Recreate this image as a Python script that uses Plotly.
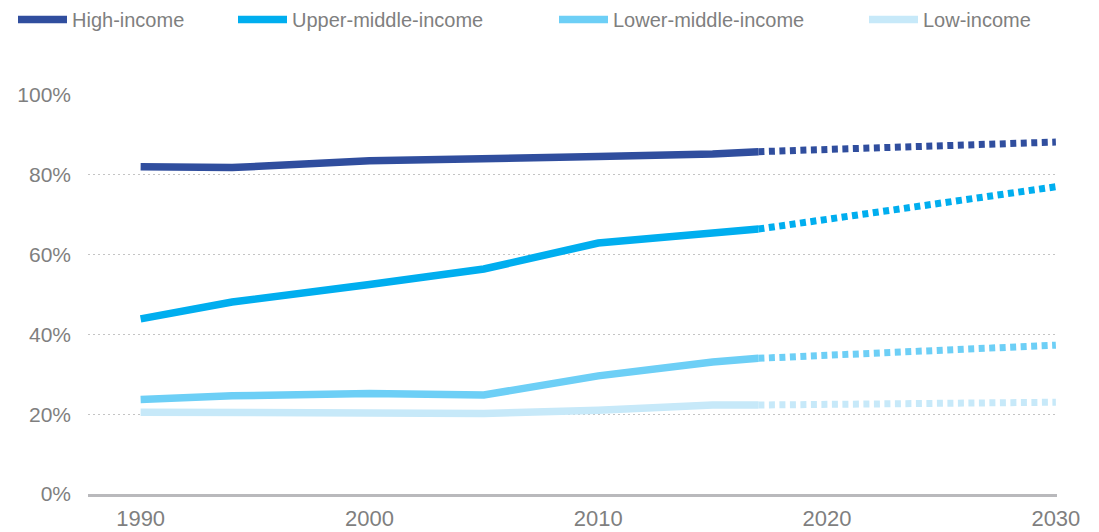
import plotly.graph_objects as go

# Urban population share by income group, observed and projected
years = [1990, 1994, 2000, 2005, 2010, 2015, 2017]
proj_years = [2017, 2030]

high_income = [82.0, 81.8, 83.5, 83.9, 84.6, 85.2, 85.8]
high_income_proj = [85.8, 88.2]

upper_middle = [43.9, 48.1, 52.5, 56.4, 62.9, 65.4, 66.4]
upper_middle_proj = [66.4, 77.0]

lower_middle = [23.7, 24.6, 25.2, 24.8, 29.6, 33.1, 34.0]
lower_middle_proj = [34.0, 37.3]

low_income = [20.5, 20.3, 20.4, 20.2, 21.0, 22.3, 22.3]
low_income_proj = [22.3, 23.0]

series = [
    ("High-income", high_income, high_income_proj, "#304e9e", "legend", 13),
    ("Upper-middle-income", upper_middle, upper_middle_proj, "#00aeef", "legend2", 233),
    ("Lower-middle-income", lower_middle, lower_middle_proj, "#6dcff6", "legend3", 554),
    ("Low-income", low_income, low_income_proj, "#c7e9f9", "legend4", 864),
]

x_ticks = [1990, 2000, 2010, 2020, 2030]
y_ticks = [0, 20, 40, 60, 80, 100]
y_tick_text = ["0%", "20%", "40%", "60%", "80%", "100%"]

W, H = 1099, 532
text_grey = "#7f7f7f"

fig = go.Figure()
legends = {}
for name, obs, proj, color, leg, lx in series:
    fig.add_trace(go.Scatter(
        x=years, y=obs, mode="lines", name=name, legend=leg,
        line=dict(color=color, width=7.5), hoverinfo="skip",
    ))
    fig.add_trace(go.Scatter(
        x=proj_years, y=proj, mode="lines", name=name, showlegend=False,
        line=dict(color=color, width=7, dash="6px,4.5px"), hoverinfo="skip",
    ))
    legends[leg] = dict(
        x=lx / W, xref="container", xanchor="left",
        y=1, yref="container", yanchor="top",
        orientation="h", bgcolor="rgba(0,0,0,0)", borderwidth=0,
        itemwidth=49, font=dict(size=20, color=text_grey),
    )

fig.update_layout(
    width=W, height=H,
    margin=dict(l=88, r=42, t=95, b=38),
    paper_bgcolor="white", plot_bgcolor="white",
    font=dict(family="Liberation Sans, Arial, sans-serif", color=text_grey),
    **legends,
)

fig.update_xaxes(
    range=[1987.7, 2030.05], tickvals=x_ticks, automargin=False,
    showgrid=False, zeroline=False,
    showline=True, linecolor="#b9b9bc", linewidth=3,
    ticks="", ticklabelstandoff=3,
    tickfont=dict(size=22, color=text_grey),
)
fig.update_yaxes(
    range=[0, 100], tickvals=y_ticks, ticktext=y_tick_text, automargin=False,
    showgrid=True, gridcolor="#c4c4c4", gridwidth=1, griddash="2px,3px",
    zeroline=False, showline=False, ticks="", ticklabelstandoff=16,
    tickfont=dict(size=21, color=text_grey),
)

fig.write_html("out.html")
